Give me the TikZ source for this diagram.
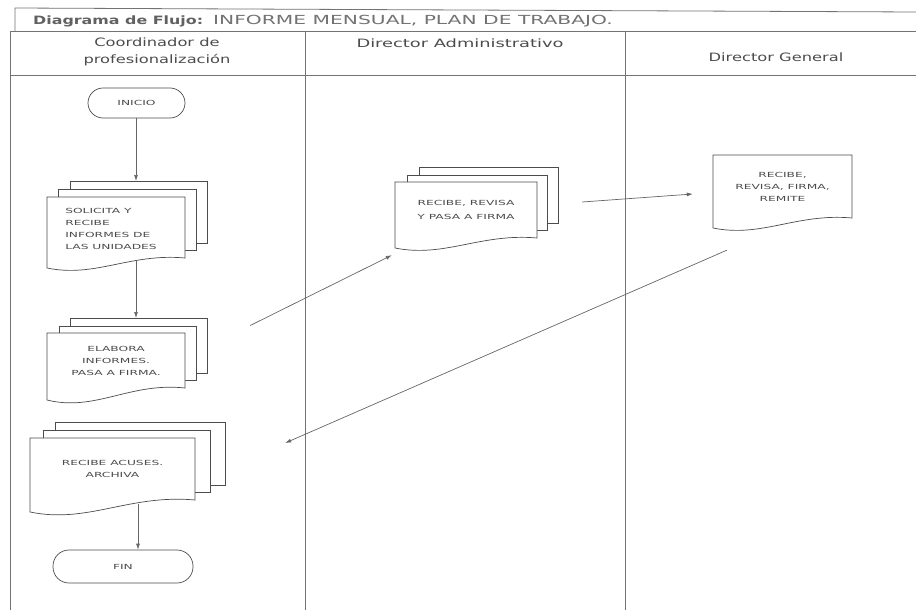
\documentclass[tikz,border=0pt]{standalone}
\usepackage{fontspec}
\setmainfont{DejaVu Sans}
\newfontfamily\ttlA[FakeStretch=1.38]{DejaVu Sans Bold}
\newfontfamily\ttlB[FakeStretch=1.62]{DejaVu Sans}
\newfontfamily\hdf[FakeStretch=1.415]{DejaVu Sans}
\newfontfamily\hdw[FakeStretch=1.55]{DejaVu Sans}
\newfontfamily\smf[FakeStretch=1.75]{DejaVu Sans}
\usetikzlibrary{calc,arrows.meta}
\tikzset{
  frame/.style={draw=black!55, line width=0.8pt},
  docline/.style={draw=black!70, line width=0.7pt, fill=white},
  txt/.style={font=\smf\fontsize{7}{12}\selectfont, text=black!70, align=center, inner sep=0pt},
  hdr/.style={font=\hdf\fontsize{11.5}{17}\selectfont, text=black!70, align=center, inner sep=0pt},
  term/.style={txt, draw=black!70, line width=0.7pt},
  arr/.style={draw=black!60, line width=0.7pt, -{Latex[length=6pt,width=4pt]}},
}
% document shape: x1, ytop, x2, ybottom-right, drop
\newcommand\docsh[5]{\draw[docline] (#1,#2) -- (#1,{#4+#5}) .. controls ({#1+0.35*(#3-#1)},{#4+2.0*#5}) and ({#1+0.6*(#3-#1)},{#4-0.5*#5}) .. (#3,#4) -- (#3,#2) -- cycle;}
\newcommand\dlayer[4]{\draw[docline] (#1,#2) rectangle (#3,#4);}
\begin{document}
\begin{tikzpicture}[x=1pt,y=-1pt]
\useasboundingbox[fill=white] (0,0) rectangle (916,610);
% frame and swimlanes
\draw[frame] (15,31) -- (15,8) -- (916,12);
\draw[frame] (916,31) -- (10,31) -- (10,610);
\draw[frame] (10,75) -- (916,75);
\draw[frame] (305,31) -- (305,610);
\draw[frame] (625,31) -- (625,610);
% title
\node[anchor=base west, inner sep=0pt, text=black!62, font=\ttlA\fontsize{11.5}{15}\selectfont] (t1) at (33,25) {Diagrama de Flujo:};
\node[anchor=base west, inner sep=0pt, text=black!55, font=\ttlB\fontsize{12.5}{15}\selectfont] (t2) at (213,25) {INFORME MENSUAL, PLAN DE TRABAJO.};
% headers
\node[hdr] (h1) at (157,52) {Coordinador de\\profesionalización};
\node[hdr, font=\hdw\fontsize{11.5}{17}\selectfont] (h2) at (460,43) {Director Administrativo};
\node[hdr] (h3) at (776,57) {Director General};
% document shapes
\dlayer{70}{181}{207}{243} \dlayer{58}{189}{196}{250} \docsh{47}{197}{185}{258}{10}
\dlayer{70}{318}{207}{373} \dlayer{59}{326}{196}{380} \docsh{47}{333}{185}{388}{12}
\dlayer{55}{422}{225}{485} \dlayer{43}{430}{210}{492} \docsh{30}{438}{195}{500}{12}
\dlayer{419}{167}{558}{223} \dlayer{407}{175}{547}{230} \docsh{395}{182}{537}{238}{10}
\docsh{713}{155}{852}{218}{10}
% nodes
\node[term, rounded corners=15pt, minimum width=97pt, minimum height=30pt] (ini) at (136.5,103) {INICIO};
\node[txt, align=left] (d1) at (111,228.5) {SOLICITA Y\\RECIBE\\INFORMES DE\\LAS UNIDADES};
\node[txt, minimum width=138pt, minimum height=55pt] (d2) at (116,360.5) {ELABORA\\INFORMES.\\PASA A FIRMA.};
\node[txt, minimum width=165pt, minimum height=62pt] (d3) at (112.5,469) {RECIBE ACUSES.\\ARCHIVA};
\node[term, rounded corners=16pt, minimum width=140pt, minimum height=33pt] (fin) at (123,566.5) {FIN};
\node[txt, minimum width=142pt, minimum height=56pt] (m) at (466,210) {RECIBE, REVISA\\[2pt]Y PASA A FIRMA};
\node[txt, minimum width=139pt, minimum height=63pt] (g) at (782.5,186.5) {RECIBE,\\REVISA, FIRMA,\\REMITE};
% connectors
\coordinate (d1t) at (136,181);
\coordinate (d1b) at (136,261);
\coordinate (d2t) at (136,318);
\draw[arr] (ini.south -| d1t) -- (d1t);
\draw[arr] (d1b) -- (d2t);
\draw[arr] ($(d3.south)+(25.5,4)$) -- ($(fin.north)+(15,0)$);
\draw[arr] ($(d2.east)+(65,-35)$) -- ($(m.south west)+(-3,17)$);
\draw[arr] ($(m.east)+(45,-8)$) -- ($(g.west)+(-20,7.5)$);
\draw[arr] ($(g.south west)+(14,32)$) -- ($(d3.east)+(90,-26)$);
\end{tikzpicture}
\end{document}
